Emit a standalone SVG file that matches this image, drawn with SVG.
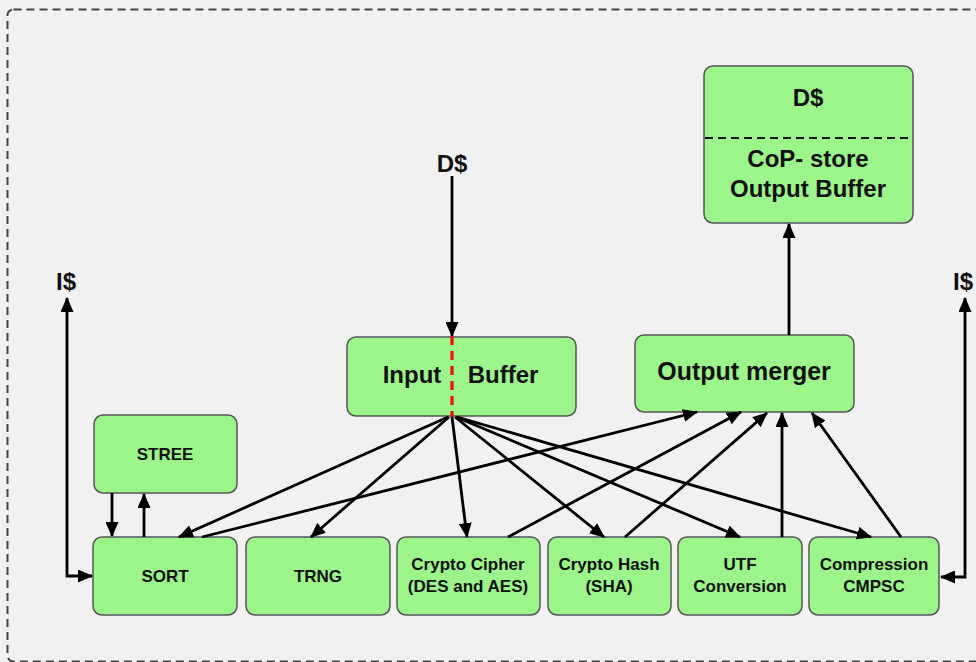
<svg xmlns="http://www.w3.org/2000/svg" width="976" height="662" viewBox="0 0 976 662">
<style>
.box{fill:#9cf58b;stroke:#555;stroke-width:1.5}
.t{font-family:"Liberation Sans",Arial,sans-serif;font-weight:bold;fill:#111;text-anchor:middle}
.big{font-size:24px}
.sm{font-size:17px}
.c{fill:none;stroke:#000;stroke-width:2.8}
.a{marker-end:url(#ah)}
.d{marker-start:url(#ah);marker-end:url(#ah)}
</style>
<defs>
<marker id="ah" viewBox="0 0 15 13" markerWidth="15" markerHeight="13" refX="14" refY="6.5" orient="auto-start-reverse" markerUnits="userSpaceOnUse">
<path d="M0,0 L15,6.5 L0,13 Z" fill="#000"/>
</marker>
</defs>
<rect width="976" height="662" fill="#f1f1f1"/>
<rect x="7.5" y="9.5" width="990" height="652" rx="6" fill="none" stroke="#444" stroke-width="2" stroke-dasharray="8,5"/>

<g id="dcache">
<rect class="box" x="704" y="66" width="209" height="157" rx="9"/>
<line x1="705" y1="138" x2="912" y2="138" stroke="#111" stroke-width="2" stroke-dasharray="8,5"/>
<text class="t big" x="808" y="106">D$</text>
<text class="t big" x="808" y="167">CoP- store</text>
<text class="t big" x="808" y="197">Output Buffer</text>
</g>
<g id="input-buffer">
<rect class="box" x="347" y="337" width="229" height="79" rx="9"/>
<text class="t big" x="412" y="383">Input</text>
<text class="t big" x="503" y="383">Buffer</text>
</g>
<g id="output-merger">
<rect class="box" x="635" y="335" width="219" height="77" rx="9"/>
<text class="t big" x="744" y="380" style="font-size:25px">Output merger</text>
</g>
<g id="stree">
<rect class="box" x="94" y="415" width="143" height="78" rx="9"/>
<text class="t sm" x="165" y="460">STREE</text>
</g>
<g id="sort">
<rect class="box" x="93" y="537" width="144" height="78" rx="9"/>
<text class="t sm" x="165" y="582">SORT</text>
</g>
<g id="trng">
<rect class="box" x="246" y="537" width="144" height="78" rx="9"/>
<text class="t sm" x="318" y="582">TRNG</text>
</g>
<g id="crypto-cipher">
<rect class="box" x="397" y="537" width="143" height="78" rx="9"/>
<text class="t sm" x="468" y="570">Crypto Cipher</text>
<text class="t sm" x="468" y="592">(DES and AES)</text>
</g>
<g id="crypto-hash">
<rect class="box" x="548" y="537" width="123" height="78" rx="9"/>
<text class="t sm" x="609" y="570">Crypto Hash</text>
<text class="t sm" x="609" y="592">(SHA)</text>
</g>
<g id="utf">
<rect class="box" x="678" y="537" width="124" height="78" rx="9"/>
<text class="t sm" x="740" y="570">UTF</text>
<text class="t sm" x="740" y="592">Conversion</text>
</g>
<g id="compression">
<rect class="box" x="809" y="537" width="130" height="78" rx="9"/>
<text class="t sm" x="874" y="570">Compression</text>
<text class="t sm" x="874" y="592">CMPSC</text>
</g>

<g id="labels">
<text class="t big" x="452" y="172">D$</text>
<text class="t big" x="66" y="290">I$</text>
<text class="t big" x="963" y="290">I$</text>
</g>

<g id="connectors">
<line class="c a" x1="452" y1="176" x2="452" y2="336"/>
<line x1="452" y1="336" x2="452" y2="417" stroke="#ee1111" stroke-width="3.2" stroke-dasharray="9,6"/>
<line class="c a" x1="789" y1="335" x2="789" y2="224"/>
<polyline class="c d" points="67,298 67,576 92,576"/>
<polyline class="c d" points="965,298 965,577 941,577"/>
<line class="c a" x1="112" y1="493" x2="112" y2="536"/>
<line class="c a" x1="144" y1="537" x2="144" y2="494"/>
<line class="c a" x1="448" y1="417" x2="179" y2="537"/>
<line class="c a" x1="449" y1="417" x2="311" y2="537"/>
<line class="c a" x1="452" y1="417" x2="467" y2="537"/>
<line class="c a" x1="455" y1="417" x2="604" y2="537"/>
<line class="c a" x1="456" y1="417" x2="740" y2="537"/>
<line class="c a" x1="457" y1="417" x2="871" y2="537"/>
<line class="c a" x1="202" y1="537" x2="697" y2="412"/>
<line class="c a" x1="508" y1="537" x2="741" y2="412"/>
<line class="c a" x1="625" y1="537" x2="767" y2="413"/>
<line class="c a" x1="782" y1="537" x2="782" y2="413"/>
<line class="c a" x1="901" y1="537" x2="812" y2="413"/>
</g>
</svg>
